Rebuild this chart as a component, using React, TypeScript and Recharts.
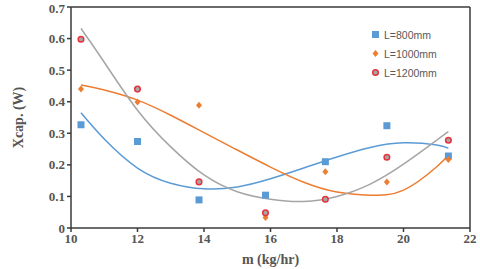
import React from 'react';
import {
	ComposedChart,
	Scatter,
	Line,
	XAxis,
	YAxis,
	ReferenceLine,
} from 'recharts';

// measured mass flow (kg/hr)
const massFlow = [10.3, 12, 13.85, 15.85, 17.65, 19.5, 21.35];
const xcap800 = [0.327, 0.274, 0.089, 0.104, 0.21, 0.324, 0.228];
const xcap1000 = [0.44, 0.399, 0.389, 0.033, 0.178, 0.146, 0.217];
const xcap1200 = [0.598, 0.44, 0.146, 0.048, 0.091, 0.224, 0.278];

// trendline points
const trendX = [10.3, 11, 12, 13, 14, 15, 16, 17, 18, 19, 20, 21, 21.35];
const trend800 = [0.365, 0.282, 0.19, 0.142, 0.124, 0.13, 0.156, 0.19, 0.225, 0.255, 0.27, 0.263, 0.252];
const trend1000 = [0.453, 0.437, 0.405, 0.357, 0.302, 0.247, 0.193, 0.145, 0.114, 0.104, 0.12, 0.194, 0.231];
const trend1200 = [0.632, 0.525, 0.373, 0.257, 0.168, 0.115, 0.091, 0.084, 0.1, 0.139, 0.202, 0.278, 0.305];

const xTicks = [10, 12, 14, 16, 18, 20, 22];
const yTicks = [0, 0.1, 0.2, 0.3, 0.4, 0.5, 0.6, 0.7];

const BLUE = '#5B9BD5';
const ORANGE = '#ED7D31';
const GRAY = '#A5A5A5';
const RED = '#E8323C';
const AXIS = '#3a3a3a';

const toPoints = (xs: number[], ys: number[]) => xs.map((x, i) => ({ x, y: ys[i] }));

const Square = (p: any) => <rect x={p.cx - 3.5} y={p.cy - 3.5} width={7} height={7} fill={BLUE} />;
const Diamond = (p: any) => (
	<path d={`M${p.cx},${p.cy - 3.5}L${p.cx + 3},${p.cy}L${p.cx},${p.cy + 3.5}L${p.cx - 3},${p.cy}Z`} fill={ORANGE} />
);
const Ring = (p: any) => <circle cx={p.cx} cy={p.cy} r={2.8} fill={GRAY} stroke={RED} strokeWidth={1.5} />;

const legendItems = [
	{ name: 'L=800mm', icon: <rect x={1} y={1} width={7} height={7} fill={BLUE} /> },
	{ name: 'L=1000mm', icon: <path d="M4.5,1L7.5,4.5L4.5,8L1.5,4.5Z" fill={ORANGE} /> },
	{ name: 'L=1200mm', icon: <circle cx={4.5} cy={4.5} r={2.8} fill={GRAY} stroke={RED} strokeWidth={1.5} /> },
];

const tickStyle = { fontFamily: '"Liberation Serif", serif', fontWeight: 700, fontSize: 13, fill: '#555555' };
const titleStyle = { fontFamily: '"Liberation Serif", serif', fontWeight: 700, fontSize: 14, fill: '#555555' };

export default function App() {
	return (
		<div style={{ position: 'fixed', left: 0, top: 0, width: 480, height: 269, background: '#fff' }}>
			<ComposedChart width={480} height={269} margin={{ top: 7, right: 10, left: 0, bottom: 0 }}>
				<XAxis
					type="number"
					dataKey="x"
					domain={[10, 22]}
					ticks={xTicks}
					height={41}
					stroke={AXIS}
					strokeWidth={1.5}
					tickSize={4}
					tick={tickStyle}
					label={{ value: 'm (kg/hr)', position: 'insideBottom', offset: 5, style: titleStyle }}
				/>
				<YAxis
					type="number"
					dataKey="y"
					domain={[0, 0.7]}
					ticks={yTicks}
					width={71}
					stroke={AXIS}
					strokeWidth={1.5}
					tickSize={4}
					tick={tickStyle}
					tickFormatter={(v: number) => (v === 0 ? '0' : v.toFixed(1))}
					label={{
						value: 'Xcap. (W)',
						angle: -90,
						position: 'insideLeft',
						offset: 18,
						style: { ...titleStyle, textAnchor: 'middle' },
					}}
				/>
				<ReferenceLine y={0.7} stroke={AXIS} strokeWidth={1.5} />
				<ReferenceLine x={22} stroke={AXIS} strokeWidth={1.5} />
				<Line data={toPoints(trendX, trend800)} dataKey="y" type="natural" stroke={BLUE} strokeWidth={1.5} dot={false} isAnimationActive={false} />
				<Line data={toPoints(trendX, trend1000)} dataKey="y" type="natural" stroke={ORANGE} strokeWidth={1.5} dot={false} isAnimationActive={false} />
				<Line data={toPoints(trendX, trend1200)} dataKey="y" type="natural" stroke={GRAY} strokeWidth={1.5} dot={false} isAnimationActive={false} />
				<Scatter name="L=800mm" data={toPoints(massFlow, xcap800)} shape={Square} isAnimationActive={false} />
				<Scatter name="L=1000mm" data={toPoints(massFlow, xcap1000)} shape={Diamond} isAnimationActive={false} />
				<Scatter name="L=1200mm" data={toPoints(massFlow, xcap1200)} shape={Ring} isAnimationActive={false} />
			</ComposedChart>
			<div
				style={{
					position: 'absolute',
					left: 371,
					top: 25,
					fontFamily: '"Liberation Sans", sans-serif',
					fontSize: 10.5,
					color: '#595959',
				}}
			>
				{legendItems.map((it) => (
					<div key={it.name} style={{ display: 'flex', alignItems: 'center', height: 19 }}>
						<svg width={9} height={9} style={{ marginRight: 4 }}>
							{it.icon}
						</svg>
						{it.name}
					</div>
				))}
			</div>
		</div>
	);
}
